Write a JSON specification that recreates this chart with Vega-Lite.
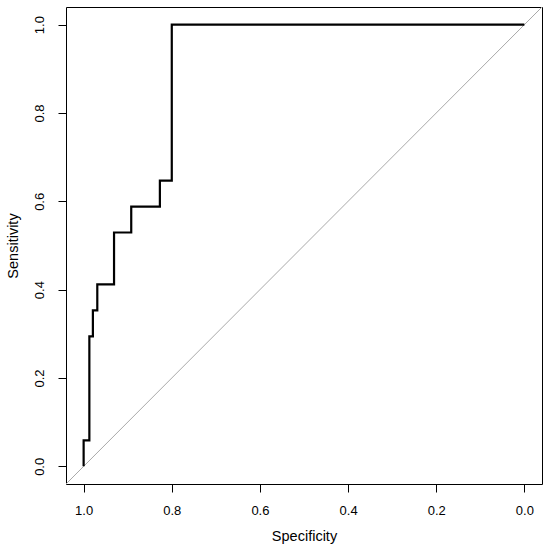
{
  "$schema": "https://vega.github.io/schema/vega-lite/v6.json",
  "autosize": "none",
  "width": 476,
  "height": 477,
  "padding": {"left": 66, "top": 7, "right": 8, "bottom": 71},
  "background": "white",
  "config": {
    "view": {"stroke": "black", "strokeWidth": 1},
    "font": "Liberation Sans",
    "axis": {
      "domain": false,
      "grid": false,
      "ticks": true,
      "tickColor": "black",
      "tickSize": 8,
      "labelColor": "black",
      "labelFontSize": 13,
      "labelFont": "Liberation Sans",
      "titleFont": "Liberation Sans",
      "titleFontSize": 14.5,
      "titleFontWeight": "normal",
      "titleColor": "black"
    }
  },
  "datasets": {
    "roc": [
      {"i": 1, "specificity": 1.0, "sensitivity": 0.0},
      {"i": 2, "specificity": 1.0, "sensitivity": 0.0588},
      {"i": 3, "specificity": 0.987, "sensitivity": 0.0588},
      {"i": 4, "specificity": 0.987, "sensitivity": 0.2941},
      {"i": 5, "specificity": 0.979, "sensitivity": 0.2941},
      {"i": 6, "specificity": 0.979, "sensitivity": 0.3529},
      {"i": 7, "specificity": 0.969, "sensitivity": 0.3529},
      {"i": 8, "specificity": 0.969, "sensitivity": 0.4118},
      {"i": 9, "specificity": 0.931, "sensitivity": 0.4118},
      {"i": 10, "specificity": 0.931, "sensitivity": 0.5294},
      {"i": 11, "specificity": 0.892, "sensitivity": 0.5294},
      {"i": 12, "specificity": 0.892, "sensitivity": 0.5882},
      {"i": 13, "specificity": 0.827, "sensitivity": 0.5882},
      {"i": 14, "specificity": 0.827, "sensitivity": 0.6471},
      {"i": 15, "specificity": 0.80, "sensitivity": 0.6471},
      {"i": 16, "specificity": 0.80, "sensitivity": 1.0},
      {"i": 17, "specificity": 0.0, "sensitivity": 1.0}
    ],
    "diag": [
      {"i": 1, "specificity": 1.04, "sensitivity": -0.04},
      {"i": 2, "specificity": -0.04, "sensitivity": 1.04}
    ]
  },
  "encoding": {
    "x": {
      "field": "specificity",
      "type": "quantitative",
      "title": "Specificity",
      "scale": {"domain": [-0.04, 1.04], "reverse": true, "nice": false, "zero": false},
      "axis": {
        "values": [0, 0.2, 0.4, 0.6, 0.8, 1.0],
        "format": ".1f",
        "labelPadding": 12,
        "titlePadding": 12
      }
    },
    "y": {
      "field": "sensitivity",
      "type": "quantitative",
      "title": "Sensitivity",
      "scale": {"domain": [-0.04, 1.04], "nice": false, "zero": false},
      "axis": {
        "values": [0, 0.2, 0.4, 0.6, 0.8, 1.0],
        "format": ".1f",
        "labelAngle": -90,
        "labelAlign": "center",
        "labelBaseline": "bottom",
        "labelPadding": 12,
        "titlePadding": 13
      }
    },
    "order": {"field": "i", "type": "quantitative"}
  },
  "layer": [
    {
      "data": {"name": "diag"},
      "mark": {"type": "line", "color": "darkgrey", "strokeWidth": 1, "clip": true}
    },
    {
      "data": {"name": "roc"},
      "mark": {"type": "line", "color": "black", "strokeWidth": 2.2, "clip": true}
    }
  ]
}
